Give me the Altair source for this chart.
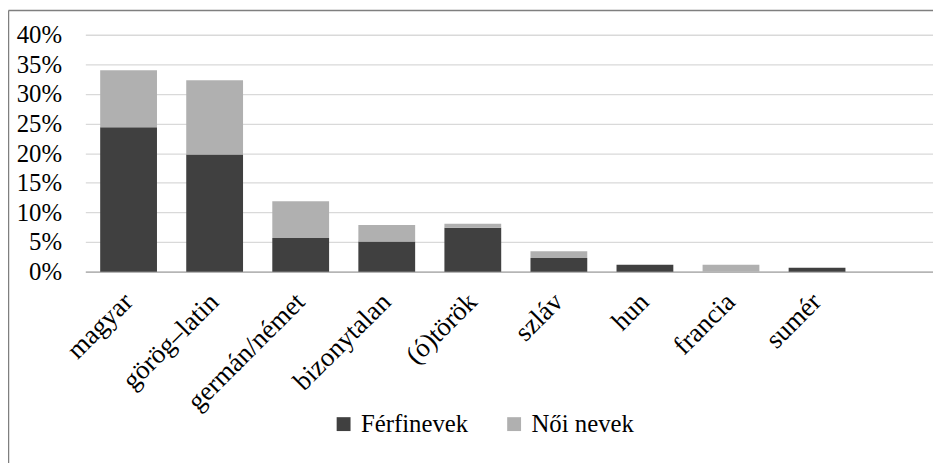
import altair as alt
import pandas as pd

categories = ["magyar", "görög–latin", "germán/német", "bizonytalan", "(ó)török",
              "szláv", "hun", "francia", "sumér"]
series = ["Férfinevek", "Női nevek"]
male = [24.4, 19.8, 5.7, 5.1, 7.4, 2.3, 1.15, 0.0, 0.65]
female = [9.6, 12.5, 6.2, 2.8, 0.7, 1.15, 0.0, 1.15, 0.0]
y_ticks = [0, 5, 10, 15, 20, 25, 30, 35, 40]
colors = ["#404040", "#b0b0b0"]

rows = []
for c, m, f in zip(categories, male, female):
    rows.append({"cat": c, "series": series[0], "val": m, "ord": 0})
    rows.append({"cat": c, "series": series[1], "val": f, "ord": 1})
df = pd.DataFrame(rows)

FONT = "Liberation Serif"
W, H = 855, 239

bars = alt.Chart(df).mark_bar().encode(
    x=alt.X("cat:N", sort=categories,
            scale=alt.Scale(paddingInner=0.34, paddingOuter=0.595, align=0.145),
            axis=alt.Axis(title=None, labelAngle=-45, labelAlign="right",
                          labelBaseline="middle", labelFont=FONT, labelFontSize=27,
                          labelColor="#000000", ticks=False, labelPadding=26,
                          domainColor="#a6a6a6", domainWidth=1.3,
                          labelOverlap=False, labelBound=False)),
    y=alt.Y("val:Q", stack="zero",
            scale=alt.Scale(domain=[0, 40], nice=False),
            axis=alt.Axis(title=None, values=y_ticks, labelExpr="datum.value + '%'",
                          labelFont=FONT, labelFontSize=25, labelColor="#000000",
                          domain=False, ticks=False, labelPadding=24,
                          gridColor="#d9d9d9", gridWidth=1.3)),
    color=alt.Color("series:N",
                    scale=alt.Scale(domain=series, range=colors),
                    legend=alt.Legend(title=None, orient="none", legendX=248, legendY=380,
                                      direction="horizontal", symbolType="square",
                                      symbolSize=196, symbolStrokeWidth=0,
                                      labelFont=FONT, labelFontSize=25,
                                      labelColor="#000000", labelOffset=5,
                                      columnPadding=33, padding=0)),
    order=alt.Order("ord:Q", sort="ascending"),
)

frame_df = pd.DataFrame({"a": [0]})
frame_left = alt.Chart(frame_df).mark_rule(color="#7f7f7f", strokeWidth=1.5).encode(
    x=alt.value(-77.5), y=alt.value(-24.5), y2=alt.value(440))
frame_top = alt.Chart(frame_df).mark_rule(color="#7f7f7f", strokeWidth=1.5).encode(
    x=alt.value(-77.5), x2=alt.value(W + 5), y=alt.value(-24.5))

chart = alt.layer(bars, frame_left, frame_top).properties(
    width=W, height=H,
    padding={"left": 78, "top": 25, "right": 0, "bottom": 191},
    autosize=alt.AutoSizeParams(type="none"),
    background="#ffffff",
).configure(font=FONT).configure_view(stroke=None).configure_axis(
    labelFont=FONT).configure_legend(labelFont=FONT)

chart.save("out.html", embed_options={"renderer": "svg", "actions": False})
